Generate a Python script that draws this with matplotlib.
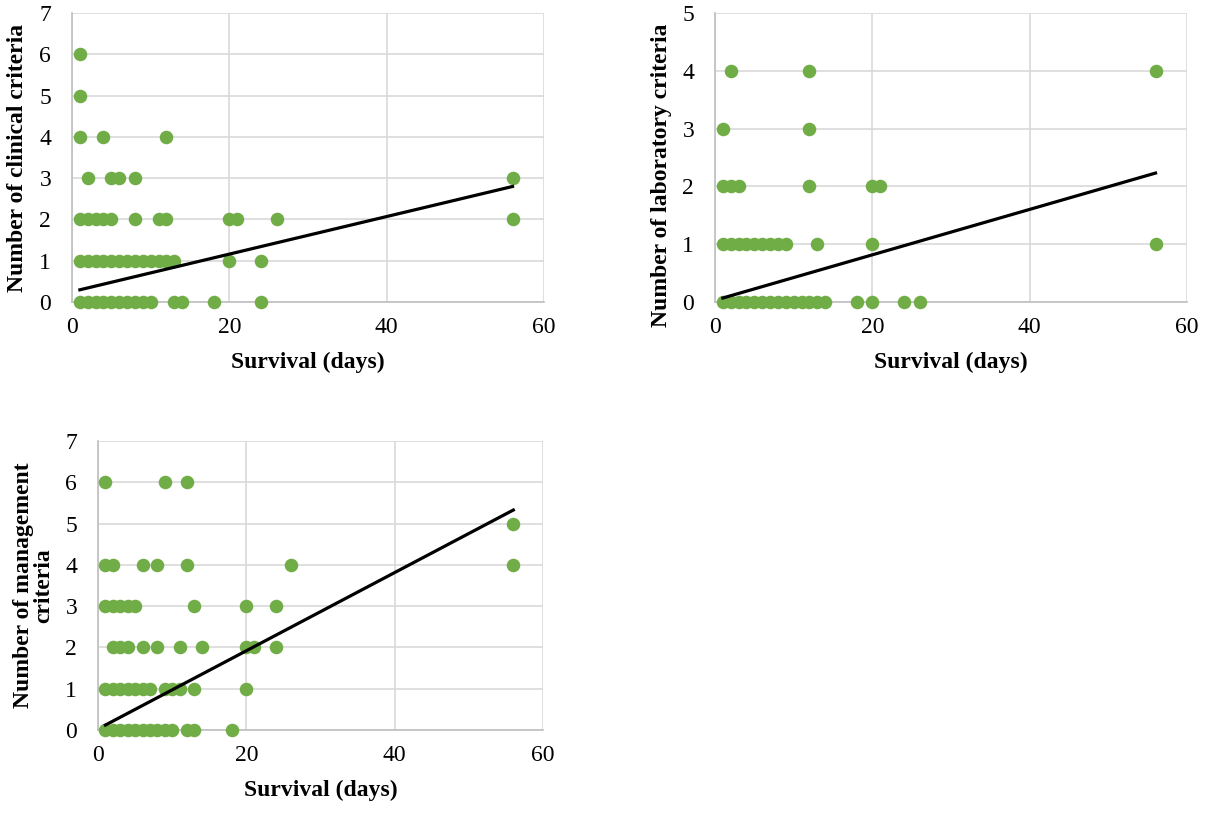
import matplotlib.pyplot as plt

plt.rcParams['font.family'] = ['Liberation Serif', 'DejaVu Serif']

# survival (days) at each criteria count
clinical = {
    6: [1],
    5: [1],
    4: [1, 4, 12],
    3: [2, 5, 6, 8, 56],
    2: [1, 2, 3, 4, 5, 8, 11, 12, 20, 21, 26, 56],
    1: list(range(1, 14)) + [20, 24],
    0: list(range(1, 11)) + [13, 14, 18, 24],
}
laboratory = {
    4: [2, 12, 56],
    3: [1, 12],
    2: [1, 2, 3, 12, 20, 21],
    1: list(range(1, 10)) + [13, 20, 56],
    0: list(range(1, 15)) + [18, 20, 24, 26],
}
management = {
    6: [1, 9, 12],
    5: [56],
    4: [1, 2, 6, 8, 12, 26, 56],
    3: [1, 2, 3, 4, 5, 13, 20, 24],
    2: [2, 3, 4, 6, 8, 11, 14, 20, 21, 24],
    1: list(range(1, 8)) + [9, 10, 11, 13, 20],
    0: list(range(1, 11)) + [12, 13, 18],
}

# linear trend lines (intercept, slope)
clinical_trend = (0.25, 0.0455)
laboratory_trend = (0.03, 0.0393)
management_trend = (0.025, 0.0947)
trend_x = [1, 56]

GREEN = '#70ad47'
GRID = '#d9d9d9'
FS = 17


def panel(ax, data, trend, ymax, ylabel):
    xs, ys = [], []
    for y, days in data.items():
        xs += days
        ys += [y] * len(days)
    ax.scatter(xs, ys, s=95, color=GREEN, zorder=3, clip_on=False, linewidths=0)
    b, m = trend
    ax.plot(trend_x, [b + m * x for x in trend_x], color='black', lw=2.3, zorder=4)
    ax.set_xlim(0, 60)
    ax.set_ylim(0, ymax)
    ax.set_xticks([0, 20, 40, 60])
    ax.set_yticks(range(ymax + 1))
    ax.grid(True, color=GRID, lw=1.2)
    ax.set_axisbelow(True)
    for s in ['top', 'right']:
        ax.spines[s].set_visible(False)
    for s in ['left', 'bottom']:
        ax.spines[s].set_color('#bfbfbf')
        ax.spines[s].set_linewidth(1.2)
    ax.tick_params(length=0, labelsize=FS)
    ax.tick_params(axis='x', pad=11)
    ax.tick_params(axis='y', pad=15)
    ax.set_xlabel('Survival (days)', fontsize=FS, fontweight='bold', labelpad=10)
    ax.set_ylabel(ylabel, fontsize=FS, fontweight='bold', labelpad=8,
                  linespacing=0.95)


W, H = 1209, 814
fig = plt.figure(figsize=(W / 100, H / 100), dpi=100)


def add_axes(l, r, t, b):
    return fig.add_axes([l / W, 1 - b / H, (r - l) / W, (b - t) / H])


ax1 = add_axes(72, 544, 13, 302)
ax2 = add_axes(715, 1187, 13, 302)
ax3 = add_axes(98, 543, 441, 730)

panel(ax1, clinical, clinical_trend, 7, 'Number of clinical criteria')
panel(ax2, laboratory, laboratory_trend, 5, 'Number of laboratory criteria')
panel(ax3, management, management_trend, 7, 'Number of management\ncriteria')

# the laboratory label sits a little lower in the original
ax2.yaxis.set_label_coords(-0.092, 0.44)

fig.savefig('out.png', dpi=100)
